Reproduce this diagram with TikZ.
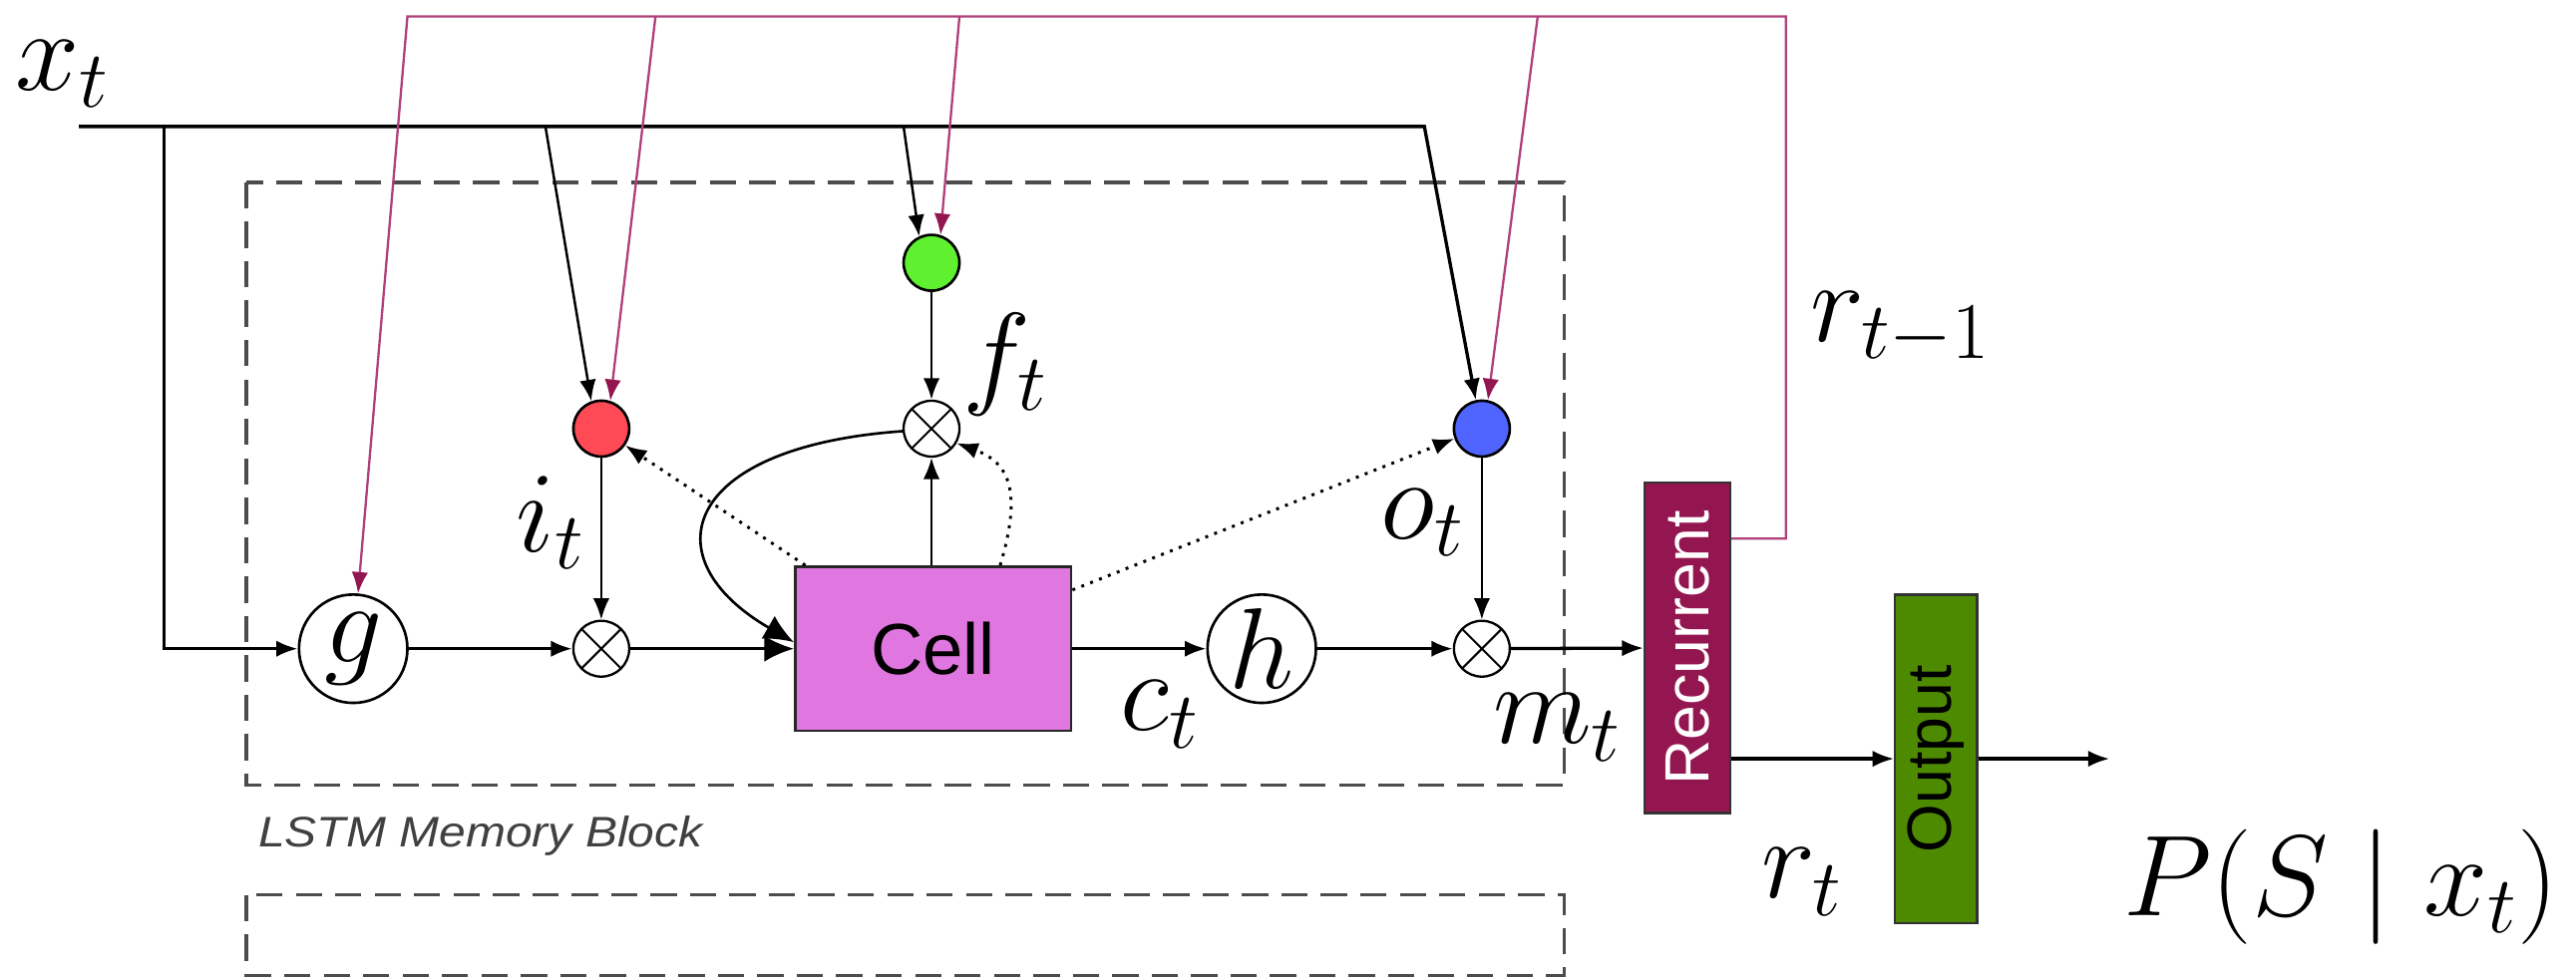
\RequirePackage{fix-cm}
\documentclass[tikz,border=0pt]{standalone}
\usepackage{fontspec}
\setsansfont{Liberation Sans}
\usetikzlibrary{arrows.meta}
\definecolor{pinkl}{RGB}{176,64,122}
\definecolor{rdark}{RGB}{148,22,81}
\definecolor{cellc}{RGB}{224,119,224}
\definecolor{gred}{RGB}{255,74,85}
\definecolor{ggreen}{RGB}{95,240,47}
\definecolor{gblue}{RGB}{80,100,255}
\definecolor{outc}{RGB}{78,138,0}
\newcommand\bigmath{\fontsize{35}{40}\selectfont}
\begin{document}
\begin{tikzpicture}[x=0.5pt,y=-0.5pt,
  lbl/.style={font=\bigmath, inner sep=0pt},
  gate/.style={circle,draw=black,line width=0.8pt,minimum size=17pt,inner sep=0pt},
  mult/.style={circle,draw=black,line width=0.7pt,minimum size=17pt,inner sep=0pt,
    path picture={\draw[line width=0.6pt] (path picture bounding box.north west)--(path picture bounding box.south east)
      (path picture bounding box.north east)--(path picture bounding box.south west);}},
  fn/.style={circle,draw=black,line width=0.8pt,minimum size=33pt,inner sep=0pt,font=\bigmath},
  conn/.style={line width=0.75pt,-{Latex[length=6.5pt,width=5pt]}},
  mainc/.style={line width=1pt,-{Latex[length=6.5pt,width=5pt]}},
  bigc/.style={line width=1pt,-{Latex[length=9pt,width=8pt]}},
  pk/.style={draw=pinkl,line width=0.7pt,-{Latex[length=6.5pt,width=5pt,color=rdark]}},
  dotc/.style={dotted,line width=0.9pt,-{Latex[length=6.5pt,width=5pt]}},
  blk/.style={draw=black!80,line width=0.7pt,inner sep=0pt,font=\sffamily\fontsize{19}{22}\selectfont},
  dashed box/.style={draw=black!70,line width=1pt,dash pattern=on 8pt off 4pt}
]
\useasboundingbox (0,0) rectangle (1568,596);

% dashed blocks
\draw[dashed box] (150,111) rectangle (952,478);
\draw[dashed box] (150,545) rectangle (952,594);
\node[anchor=west,inner sep=0pt,text=black!75,font=\sffamily\itshape\fontsize{13}{15}\selectfont] (lstm) at (157,509) {\scalebox{1.12}[1]{LSTM Memory Block}};

% coordinates
\coordinate (xs) at (48,77);
\coordinate (xa) at (100,77);
\coordinate (xi) at (332,77);
\coordinate (xf) at (550,77);
\coordinate (xe) at (867,77);
\coordinate (pA) at (248,10);
\coordinate (pB) at (399,10);
\coordinate (pC) at (584,10);
\coordinate (pD) at (936,10);
\coordinate (pE) at (1087,10);
\coordinate (pF) at (1087,328);
\coordinate (pend) at (1284,462);

% nodes
\node[fn] (g) at (215,395) {$g$};
\node[mult] (imul) at (366,395) {};
\node[draw=black!85,line width=0.8pt,fill=cellc,minimum width=84pt,minimum height=50pt,
  font=\sffamily\fontsize{22}{26}\selectfont] (cell) at (568,395) {Cell};
\node[fn] (h) at (768,395) {$h$};
\node[mult] (omul) at (902,395) {};
\node[gate,fill=gred] (igate) at (366,261) {};
\node[mult] (fmul) at (567,261) {};
\node[gate,fill=ggreen] (fgate) at (567,160) {};
\node[gate,fill=gblue] (ogate) at (902,261) {};
\node[blk,fill=rdark,text=white,minimum width=26pt,minimum height=100.5pt] (recur) at (1027,394.5) {\rotatebox{90}{Recurrent}};
\node[blk,fill=outc,minimum width=25pt,minimum height=100pt] (outp) at (1178.5,462) {\rotatebox{90}{Output}};

% labels
\node[lbl] (xtl) at (38,45) {$x_t$};
\node[lbl] (il) at (335,318) {$i_t$};
\node[lbl] (fl) at (612,222) {$f_t$};
\node[lbl] (ol) at (866,318) {$o_t$};
\node[lbl] (cl) at (706,435) {$c_t$};
\node[lbl] (ml) at (948,443) {$m_t$};
\node[lbl] (rl1) at (1157,200) {$r_{t-1}$};
\node[lbl] (rl) at (1097,537) {$r_t$};
\node[lbl] (pl) at (1425,540) {$P(S\mid x_t)$};

% input x_t
\draw[mainc] (xs) -- (xe) -- (ogate.102);
\draw[mainc] (xa) -- (xa |- g) -- (g);
\draw[conn] (xi) -- (igate.110);
\draw[conn] (xf) -- (fgate.115);

% recurrent feedback
\draw[pk] (recur.east |- pF) -- (pF) -- (pE) -- (pA) -- (g.85);
\draw[pk] (pB) -- (igate.72);
\draw[pk] (pC) -- (fgate.72);
\draw[pk] (pD) -- (ogate.78);

% main flow
\draw[mainc] (g) -- (imul);
\draw[bigc] (imul) -- (cell);
\draw[mainc] (cell) -- (h);
\draw[mainc] (h) -- (omul);
\draw[mainc] (omul) -- (recur);
\draw[conn] (igate) -- (imul);
\draw[conn] (fgate) -- (fmul);
\draw[conn] (ogate) -- (omul);
\draw[conn] (cell.north -| fmul) -- (fmul);
\draw[line width=0.8pt,-{Latex[length=9pt,width=8pt]}] (fmul.185) .. controls (415,272) and (395,340) .. ([yshift=2pt]cell.west);

% peepholes
\draw[dotc] ([xshift=3.5pt]cell.north west) -- (igate.-35);
\draw[dotc] ([xshift=-22pt]cell.north east) .. controls (622,300) and (615,282) .. (fmul.-30);
\draw[dotc] ([yshift=-7.5pt]cell.north east) -- (ogate.-160);

% output
\draw[mainc] (recur.east |- outp.west) -- (outp.west);
\draw[mainc] (outp.east) -- (pend);
\end{tikzpicture}
\end{document}
